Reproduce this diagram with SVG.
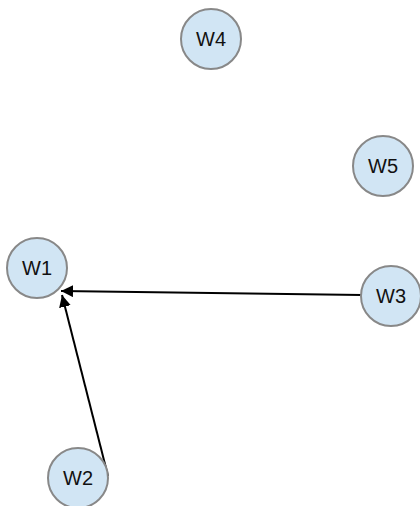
<svg xmlns="http://www.w3.org/2000/svg" width="420" height="506" viewBox="0 0 420 506">
<defs>
<marker id="arr" viewBox="0 0 10 10" refX="10" refY="5" markerWidth="6" markerHeight="6" orient="auto" markerUnits="strokeWidth">
<path d="M0,0 L10,5 L0,10 z" fill="#000"/>
</marker>
<style>
.n circle{fill:#d1e5f4;stroke:#888;stroke-width:2}
.n text{font-family:"Liberation Sans",Arial,sans-serif;font-size:20px;fill:#111;text-anchor:middle;dominant-baseline:central}
.e line{stroke:#000;stroke-width:2;marker-end:url(#arr)}
</style>
</defs>
<rect width="420" height="506" fill="#fff"/>
<g id="edges" class="e">
<line x1="362" y1="295" x2="61" y2="291"/>
<line x1="108" y1="476" x2="62" y2="295"/>
</g>
<g id="W4" class="n"><circle cx="211" cy="39" r="30"/><text x="211" y="39">W4</text></g>
<g id="W5" class="n"><circle cx="383" cy="166" r="30"/><text x="383" y="166">W5</text></g>
<g id="W1" class="n"><circle cx="37" cy="268" r="30"/><text x="37" y="268">W1</text></g>
<g id="W3" class="n"><circle cx="391" cy="296" r="30"/><text x="391" y="296">W3</text></g>
<g id="W2" class="n"><circle cx="78" cy="478" r="30"/><text x="78" y="478">W2</text></g>
</svg>
